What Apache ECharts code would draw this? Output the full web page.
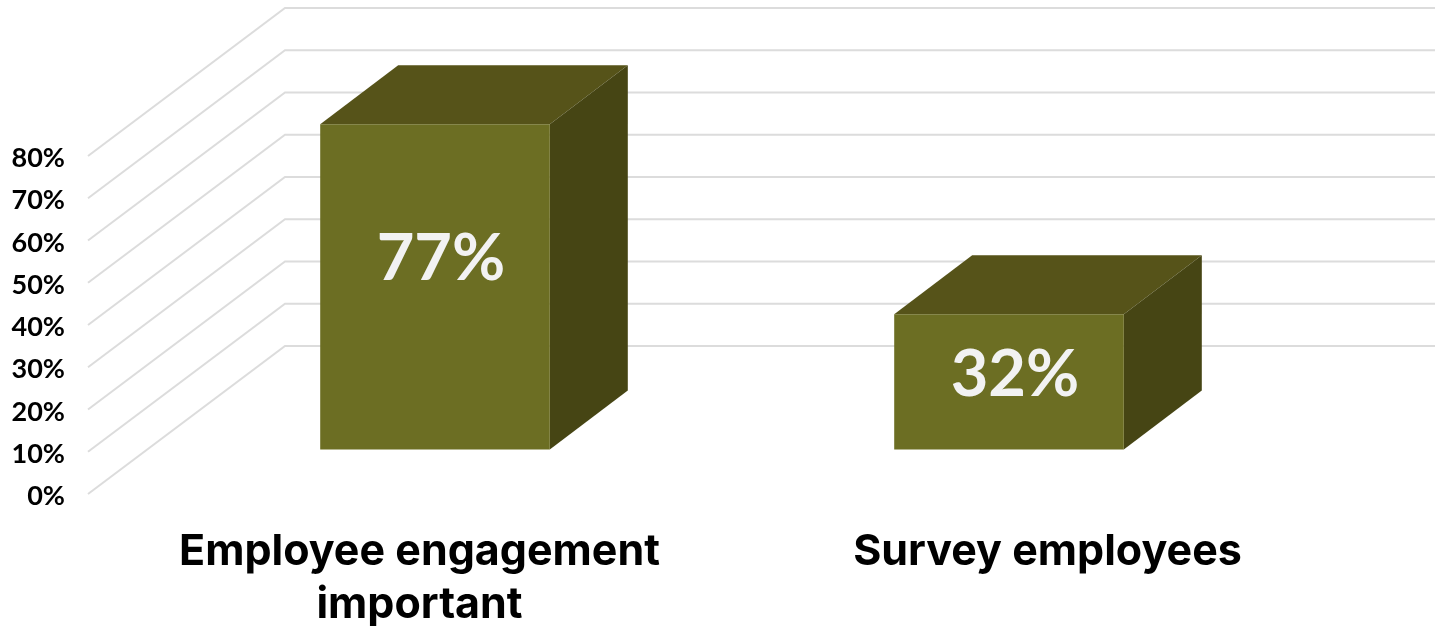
<!DOCTYPE html>
<html>
<head>
<meta charset="utf-8">
<style>html,body{margin:0;padding:0;background:#fff}#chart{width:1435px;height:626px}</style>
<script src="https://cdn.jsdelivr.net/npm/echarts@6/dist/echarts.min.js"></script>
</head>
<body>
<div id="chart"></div>
<script>
// Chart content
var categories = ['Employee engagement\nimportant', 'Survey employees'];
var shares = [77, 32];
var axisTicks = [0, 10, 20, 30, 40, 50, 60, 70, 80];

// Oblique projection of the box: how far the back wall sits from the front plane
var DEPTH_X = 197, DEPTH_Y = 148;
// The bars stand part-way along the floor, and their own depth is shorter than the floor's
var BAR_INSET_X = 60, BAR_INSET_Y = 44.5;
var BAR_DEPTH_X = 78, BAR_DEPTH_Y = 59;
var BAR_WIDTH_RATIO = 0.4;

var FRONT = '#6c6e23', TOP = '#565319', SIDE = '#464514';
var GRID_LINE = '#dcdcdc', INK = '#000000', VALUE_INK = '#f2f2f2';

function renderWallLine(params, api) {
  var y = api.coord([0, api.value(1)])[1];
  var left = params.coordSys.x;
  return {
    type: 'polyline',
    shape: { points: [[left, y], [left + DEPTH_X, y - DEPTH_Y], [api.getWidth(), y - DEPTH_Y]] },
    style: { fill: 'none', stroke: GRID_LINE, lineWidth: 2 }
  };
}

function renderBox(params, api) {
  var value = api.value(1);
  var base = api.coord([api.value(0), 0]);
  var head = api.coord([api.value(0), value]);
  var width = api.size([1, 0])[0] * BAR_WIDTH_RATIO;
  var x0 = base[0] + BAR_INSET_X - width / 2;
  var x1 = x0 + width;
  var y0 = base[1] - BAR_INSET_Y;
  var h = base[1] - head[1];
  var y1 = y0 - h;
  var dx = BAR_DEPTH_X, dy = BAR_DEPTH_Y;
  return {
    type: 'group',
    children: [
      { type: 'polygon', shape: { points: [[x0, y1], [x1, y1], [x1 + dx, y1 - dy], [x0 + dx, y1 - dy]] },
        style: { fill: TOP } },
      { type: 'polygon', shape: { points: [[x1, y0], [x1, y1], [x1 + dx, y1 - dy], [x1 + dx, y0 - dy]] },
        style: { fill: SIDE } },
      { type: 'rect', shape: { x: x0, y: y1, width: width, height: h }, style: { fill: FRONT } },
      { type: 'text', x: x0 + width / 2 + 6, y: y0 + 8 - 0.61 * h,
        style: { text: value + '%', fill: VALUE_INK, align: 'center', verticalAlign: 'middle',
                 font: 'bold 65px Lato' } }
    ]
  };
}

var chart = echarts.init(document.getElementById('chart'), null, { renderer: 'canvas' });
chart.setOption({
  animation: false,
  backgroundColor: '#ffffff',
  grid: [
    { left: 88, width: 1148, top: 156, bottom: 132, outerBoundsMode: 'none' },
    // Axis captions sit on their own band: wider than the bars and a little lower than the wall lines
    { left: 105.5, width: 1256, top: 158.5, bottom: 129.5, outerBoundsMode: 'none' }
  ],
  xAxis: [
    { type: 'category', gridIndex: 0, data: categories, axisLine: { show: false },
      axisTick: { show: false }, axisLabel: { show: false } },
    { type: 'category', gridIndex: 1, data: categories, axisLine: { show: false },
      axisTick: { show: false },
      axisLabel: { margin: 29, color: INK, fontFamily: 'Inter', fontWeight: 'bold',
                   fontSize: 43, lineHeight: 53, interval: 0 } }
  ],
  yAxis: [
    { type: 'value', gridIndex: 0, min: 0, max: 80, interval: 10, show: false },
    { type: 'value', gridIndex: 1, min: 0, max: 80, interval: 10,
      axisLine: { show: false }, axisTick: { show: false }, splitLine: { show: false },
      axisLabel: { margin: 40.5, color: INK, fontFamily: 'Lato', fontWeight: 'bold', fontSize: 27,
                   formatter: '{value}%' } }
  ],
  series: [
    { type: 'custom', xAxisIndex: 0, yAxisIndex: 0, z: 1, silent: true,
      renderItem: renderWallLine,
      data: axisTicks.map(function (t) { return [0, t]; }) },
    { type: 'custom', xAxisIndex: 0, yAxisIndex: 0, z: 2, silent: true,
      renderItem: renderBox,
      data: shares.map(function (v, i) { return [i, v]; }) }
  ]
});
</script>
</body>
</html>
